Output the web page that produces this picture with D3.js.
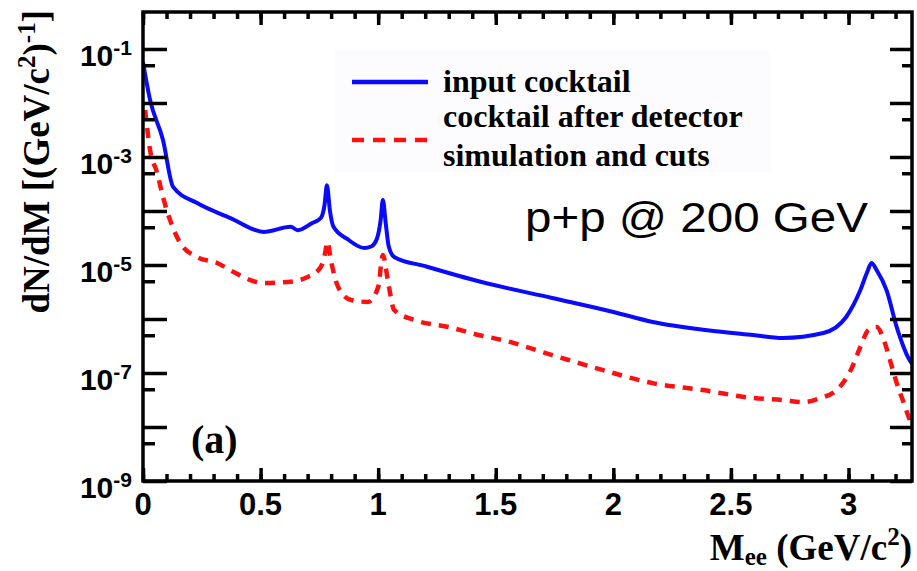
<!DOCTYPE html>
<html>
<head>
<meta charset="utf-8">
<script src="https://cdn.jsdelivr.net/npm/d3@7"></script>
<style>
  html, body { margin: 0; padding: 0; background: #fff; }
  svg { display: block; }
</style>
</head>
<body>
<svg id="chart" width="917" height="571"></svg>
<script>
// Dielectron invariant-mass cocktail, p+p at 200 GeV.
// Input cocktail (solid blue)
const massInput = [0.000, 0.030, 0.085, 0.128, 0.230, 0.372, 0.513, 0.628, 0.658, 0.720, 0.756, 0.772, 0.782, 0.795, 0.810, 0.870, 0.940, 0.970, 0.995, 1.010, 1.020, 1.032, 1.045, 1.068, 1.200, 1.440, 1.740, 2.000, 2.167, 2.400, 2.594, 2.720, 2.893, 2.990, 3.050, 3.080, 3.098, 3.120, 3.162, 3.205, 3.265, 3.286];
const dndmInput = [5.7e-2, 1.14e-2, 2.07e-3, 2.8e-4, 1.4e-4, 7.4e-5, 4.1e-5, 5.1e-5, 4.4e-5, 6.0e-5, 7.4e-5, 1.3e-4, 3.0e-4, 1.0e-4, 5.1e-5, 3.0e-5, 2.07e-5, 2.2e-5, 3.1e-5, 6.5e-5, 1.6e-4, 6.0e-5, 2.2e-5, 1.41e-5, 9.5e-6, 4.84e-6, 2.45e-6, 1.35e-6, 8.8e-7, 6.2e-7, 5.06e-7, 4.46e-7, 5.5e-7, 1.09e-6, 3.4e-6, 7.5e-6, 1.09e-5, 8.0e-6, 3.4e-6, 7.1e-7, 1.6e-7, 1.29e-7];

// Cocktail after detector simulation and cuts (dashed red)
const massCuts = [0.009, 0.030, 0.060, 0.085, 0.115, 0.158, 0.230, 0.316, 0.385, 0.513, 0.615, 0.700, 0.756, 0.772, 0.785, 0.798, 0.830, 0.885, 0.957, 1.000, 1.020, 1.043, 1.068, 1.154, 1.300, 1.427, 1.526, 1.740, 1.953, 2.167, 2.380, 2.594, 2.720, 2.810, 2.880, 2.950, 3.010, 3.050, 3.085, 3.120, 3.150, 3.180, 3.205, 3.235, 3.265, 3.290];
const dndmCuts = [7.4e-3, 1.35e-3, 5.1e-4, 1.82e-4, 6.8e-5, 2.57e-5, 1.41e-5, 1.09e-5, 7.4e-6, 4.64e-6, 4.84e-6, 6.0e-6, 9.2e-6, 1.5e-5, 2.67e-5, 1.3e-5, 3.9e-6, 2.25e-6, 2.07e-6, 3.9e-6, 1.53e-5, 4.6e-6, 1.47e-6, 9.6e-7, 7.1e-7, 5.06e-7, 4.1e-7, 2.15e-7, 1.14e-7, 6.5e-8, 4.84e-8, 3.44e-8, 3.16e-8, 2.9e-8, 3.44e-8, 4.84e-8, 1.14e-7, 3.0e-7, 6.3e-7, 7.1e-7, 4.1e-7, 1.53e-7, 6.5e-8, 2.8e-8, 1.24e-8, 1.0e-8];

// Axis ticks
const xMajorTicks = [0, 0.5, 1, 1.5, 2, 2.5, 3];
const xTickLabels = ["0", "0.5", "1", "1.5", "2", "2.5", "3"];
const yDecadeExponents = [-1, -2, -3, -4, -5, -6, -7, -8, -9];
const yLabelExponents = [-1, -3, -5, -7, -9];

const svg = d3.select("#chart");
const plotLeft = 143, plotRight = 912, plotTop = 12, plotBottom = 481;

const x = d3.scaleLinear().domain([0, 3.27]).range([plotLeft, plotRight]);
const y = d3.scaleLog().domain([1e-9, 0.484]).range([plotBottom, plotTop]);

const defs = svg.append("defs");
defs.append("clipPath").attr("id", "plotClip")
  .append("rect").attr("x", plotLeft).attr("y", plotTop)
  .attr("width", plotRight - plotLeft).attr("height", plotBottom - plotTop);

// Legend panel background
svg.append("rect").attr("x", 335).attr("y", 50).attr("width", 435).attr("height", 122)
  .attr("fill", "#fcfcfe");

// Curves
const line = d3.line().x(d => x(d[0])).y(d => y(d[1])).curve(d3.curveMonotoneX);
const curves = svg.append("g").attr("clip-path", "url(#plotClip)");
curves.append("path")
  .datum(massCuts.map((m, i) => [m, dndmCuts[i]]))
  .attr("d", line).attr("fill", "none")
  .attr("stroke", "#ff1010").attr("stroke-width", 4.5)
  .attr("stroke-dasharray", "10,8");
curves.append("path")
  .datum(massInput.map((m, i) => [m, dndmInput[i]]))
  .attr("d", line).attr("fill", "none")
  .attr("stroke", "#0a0aff").attr("stroke-width", 4)
  .attr("stroke-linejoin", "round");

// Axes: ticks pointing inward on all four sides
const xMinor = d3.range(0, 33).map(i => i / 10);
const bottomAxis = d3.axisBottom(x).tickValues(xMinor).tickSize(-7).tickFormat("");
const topAxis = d3.axisTop(x).tickValues(xMinor).tickSize(-7).tickFormat("");
const xMajorB = d3.axisBottom(x).tickValues(xMajorTicks).tickSize(-13).tickFormat("");
const xMajorT = d3.axisTop(x).tickValues(xMajorTicks).tickSize(-13).tickFormat("");

const yDecades = yDecadeExponents.map(e => Math.pow(10, e));
const yHalves = yDecadeExponents.map(e => 5 * Math.pow(10, e - 1)).filter(v => v >= 1e-9);
const leftMajor = d3.axisLeft(y).tickValues(yDecades).tickSize(-24).tickFormat("");
const leftMinor = d3.axisLeft(y).tickValues(yHalves).tickSize(-12).tickFormat("");
const rightMajor = d3.axisRight(y).tickValues(yDecades).tickSize(-22).tickFormat("");
const rightMinor = d3.axisRight(y).tickValues(yHalves).tickSize(-10).tickFormat("");

function styleAxis(g) {
  g.selectAll(".domain").remove();
  g.selectAll(".tick line").attr("stroke", "#000").attr("stroke-width", 3.5);
}
svg.append("g").attr("transform", `translate(0,${plotBottom})`).call(bottomAxis).call(styleAxis);
svg.append("g").attr("transform", `translate(0,${plotBottom})`).call(xMajorB).call(styleAxis);
svg.append("g").attr("transform", `translate(0,${plotTop})`).call(topAxis).call(styleAxis);
svg.append("g").attr("transform", `translate(0,${plotTop})`).call(xMajorT).call(styleAxis);
svg.append("g").attr("transform", `translate(${plotLeft},0)`).call(leftMajor).call(styleAxis);
svg.append("g").attr("transform", `translate(${plotLeft},0)`).call(leftMinor).call(styleAxis);
svg.append("g").attr("transform", `translate(${plotRight},0)`).call(rightMajor).call(styleAxis);
svg.append("g").attr("transform", `translate(${plotRight},0)`).call(rightMinor).call(styleAxis);

// Frame
svg.append("rect").attr("x", plotLeft).attr("y", plotTop)
  .attr("width", plotRight - plotLeft).attr("height", plotBottom - plotTop)
  .attr("fill", "none").attr("stroke", "#000").attr("stroke-width", 3.5);

// X tick labels
svg.append("g").selectAll("text").data(xMajorTicks).join("text")
  .attr("x", d => x(d)).attr("y", 515)
  .attr("text-anchor", "middle")
  .attr("font-family", "Liberation Sans, Arial, sans-serif")
  .attr("font-weight", "bold").attr("font-size", 31)
  .text((d, i) => xTickLabels[i]);

// Y tick labels 10^n
const yLab = svg.append("g").selectAll("text").data(yLabelExponents).join("text")
  .attr("x", 132).attr("y", d => y(Math.pow(10, d)) + 17)
  .attr("text-anchor", "end")
  .attr("font-family", "Liberation Sans, Arial, sans-serif")
  .attr("font-weight", "bold").attr("font-size", 30);
yLab.append("tspan").text("10");
yLab.append("tspan").attr("dy", -11).attr("font-size", 21).text(d => String(d));

// Axis titles
const serif = "Liberation Serif, Times New Roman, serif";
const xt = svg.append("text").attr("x", 912).attr("y", 560).attr("text-anchor", "end")
  .attr("font-family", serif).attr("font-weight", "bold").attr("font-size", 37);
xt.append("tspan").text("M");
xt.append("tspan").attr("dy", 5).attr("font-size", 25).text("ee");
xt.append("tspan").attr("dy", -5).text(" (GeV/c");
xt.append("tspan").attr("dy", -15).attr("font-size", 25).text("2");
xt.append("tspan").attr("dy", 15).text(")");

const yt = svg.append("text").attr("transform", "translate(49,10) rotate(-90)")
  .attr("text-anchor", "end")
  .attr("font-family", serif).attr("font-weight", "bold").attr("font-size", 37);
yt.append("tspan").text("dN/dM [(GeV/c");
yt.append("tspan").attr("dy", -14).attr("font-size", 25).text("2");
yt.append("tspan").attr("dy", 14).text(")");
yt.append("tspan").attr("dy", -14).attr("font-size", 25).text("-1");
yt.append("tspan").attr("dy", 14).text("]");

// Legend
svg.append("line").attr("x1", 352).attr("x2", 428).attr("y1", 82).attr("y2", 82)
  .attr("stroke", "#0a0aff").attr("stroke-width", 4.5);
svg.append("line").attr("x1", 352).attr("x2", 428).attr("y1", 140).attr("y2", 140)
  .attr("stroke", "#ff1010").attr("stroke-width", 4.5).attr("stroke-dasharray", "12,9");
const legendText = [["input cocktail", 92], ["cocktail after detector", 127], ["simulation and cuts", 166]];
svg.append("g").selectAll("text").data(legendText).join("text")
  .attr("x", 443).attr("y", d => d[1])
  .attr("font-family", serif).attr("font-weight", "bold").attr("font-size", 32)
  .text(d => d[0]);

// Panel label and collision system
svg.append("text").attr("x", 191).attr("y", 453)
  .attr("font-family", serif).attr("font-weight", "bold").attr("font-size", 40)
  .text("(a)");
svg.append("text").attr("x", 525).attr("y", 232)
  .attr("font-family", "Liberation Sans, Arial, sans-serif").attr("font-size", 42)
  .attr("textLength", 343).attr("lengthAdjust", "spacingAndGlyphs")
  .text("p+p @ 200 GeV");
</script>
</body>
</html>
